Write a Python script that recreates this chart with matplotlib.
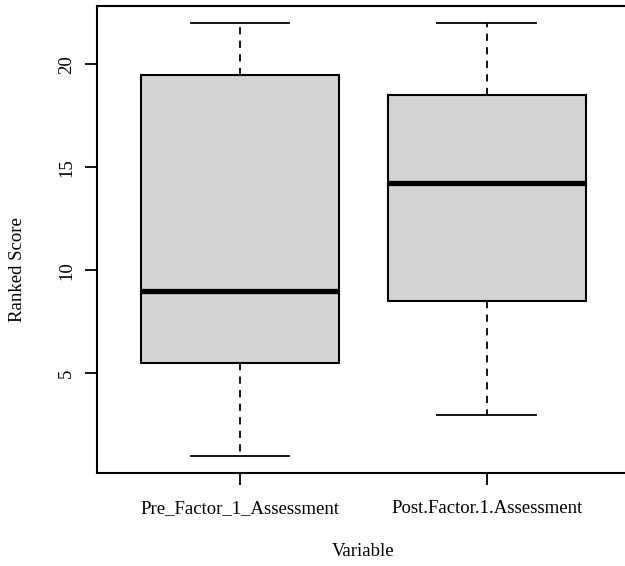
import matplotlib
matplotlib.use("Agg")
import matplotlib.pyplot as plt

plt.rcParams['font.family'] = ['Liberation Serif', 'DejaVu Serif']

labels = ["Pre_Factor_1_Assessment", "Post.Factor.1.Assessment"]
whislo = [1, 3]
q1 = [5.5, 8.5]
med = [9, 14.25]
q3 = [19.5, 18.5]
whishi = [22, 22]
yticks = [5, 10, 15, 20]

stats = []
for i in range(len(labels)):
    stats.append(dict(label=labels[i], whislo=whislo[i], q1=q1[i], med=med[i],
                      q3=q3[i], whishi=whishi[i], fliers=[]))

fig = plt.figure(figsize=(6.25, 5.66), dpi=100)
ax = fig.add_axes([96.7 / 625, 93 / 566, (630 - 96.7) / 625, 467 / 566])

ax.bxp(stats, positions=[1, 2], widths=0.8, patch_artist=True, showfliers=False,
       boxprops=dict(facecolor='#d3d3d3', edgecolor='black', linewidth=1.5),
       medianprops=dict(color='black', linewidth=3.8, solid_capstyle='butt'),
       whiskerprops=dict(color='black', linewidth=1.3, linestyle=(0, (4, 3.5))),
       capprops=dict(color='black', linewidth=1.3),
       capwidths=0.4)

ax.set_xlim(0.42, 2.58)
ax.set_ylim(0.16, 22.84)
ax.set_yticks(yticks)
ax.set_yticklabels([str(t) for t in yticks], rotation=90, va='center')
ax.set_xticks([1, 2])
ax.set_xticklabels(labels)
ax.tick_params(axis='both', direction='out', length=8.5, width=1.3, labelsize=13.5)
ax.tick_params(axis='x', pad=11)
ax.tick_params(axis='y', pad=7)
for s in ax.spines.values():
    s.set_linewidth(1.5)

fig.text(18 / 625, 1 - 270 / 566, "Ranked Score", rotation=90, ha='center', va='center', fontsize=13.5)
fig.text(363 / 625, 1 - 552 / 566, "Variable", ha='center', va='center', fontsize=13.5)

fig.savefig("out.png", dpi=100)
